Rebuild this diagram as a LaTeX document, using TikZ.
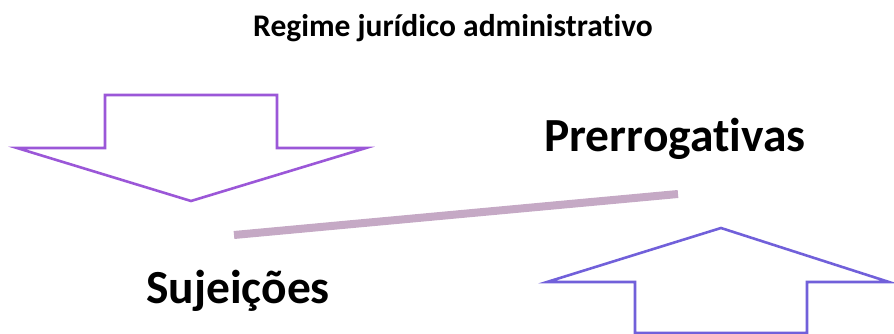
\documentclass[tikz,border=0pt]{standalone}
\usepackage{fontspec}
\setmainfont[Ligatures=NoCommon]{Carlito}
\usepackage{tikz}

\definecolor{arrowdown}{HTML}{9B57D8}
\definecolor{arrowup}{HTML}{7160DA}
\definecolor{barcolor}{HTML}{C5A9C5}

\begin{document}
\begin{tikzpicture}[x=1pt,y=1pt,
    bigarrow/.style={line width=2.6pt,fill=white},
    bigword/.style={anchor=base,inner sep=0pt,font=\fontsize{47.5}{54}\selectfont\bfseries}]
    \useasboundingbox (0,0) rectangle (894,334);
    \node[anchor=base,inner sep=0pt,font=\fontsize{31.5}{36}\selectfont\bfseries]
      (title) at (453,297) {Regime jurídico administrativo};
    \draw[bigarrow,draw=arrowdown] (105,239) -- (277,239) -- (277,186)
      -- (366,186) -- (191,133) -- (17,186) -- (105,186) -- cycle;
    \draw[bigarrow,draw=arrowup] (721,106) -- (889,52) -- (807,52)
      -- (807,1) -- (635,1) -- (635,52) -- (547,52) -- cycle;
    \coordinate (barleft) at (234,99);
    \coordinate (barright) at (678,140);
    \draw[barcolor,line width=8pt] (barleft) -- (barright);
    \node[bigword] (prerrogativas) at (675,182) {Prerrogativas};
    \node[bigword] (sujeicoes) at (238,30) {Sujeições};
  \end{tikzpicture}
\end{document}
